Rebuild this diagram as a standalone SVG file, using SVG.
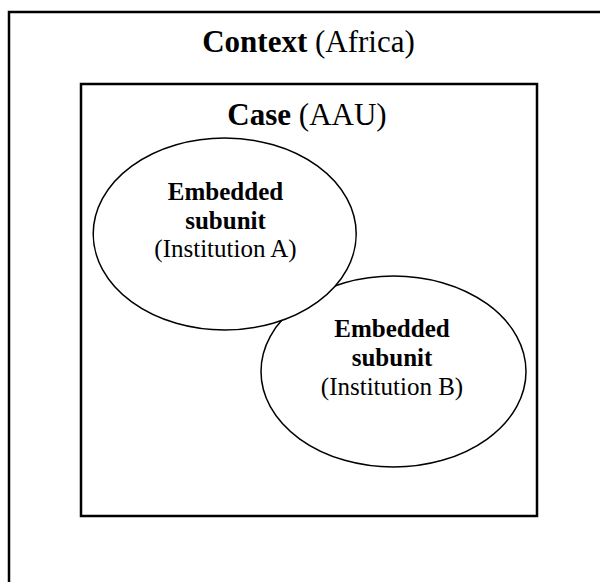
<svg xmlns="http://www.w3.org/2000/svg" width="600" height="582" viewBox="0 0 600 582">
<style>
text{font-family:"Liberation Serif","Times New Roman",serif;fill:#000;text-anchor:middle}
.big{font-size:31px}
.sm{font-size:25px}
.b{font-weight:bold}
.box{fill:none;stroke:#000;stroke-width:2.5}
.ell{fill:#fff;stroke:#000;stroke-width:1.5}
</style>
<rect width="600" height="582" fill="#fff"/>
<g id="context">
<rect class="box" x="9" y="12" width="610" height="600"/>
<text class="big" x="308.5" y="52"><tspan class="b">Context</tspan> (Africa)</text>
</g>
<g id="case">
<rect class="box" x="81" y="84" width="456" height="432"/>
<text class="big" x="307" y="125"><tspan class="b">Case</tspan> (AAU)</text>
</g>
<g id="subunitB">
<ellipse class="ell" cx="393.5" cy="371.5" rx="132.5" ry="95.5"/>
<text class="sm b" x="392" y="337">Embedded</text>
<text class="sm b" x="392" y="366">subunit</text>
<text class="sm" x="392" y="395">(Institution B)</text>
</g>
<g id="subunitA">
<ellipse class="ell" cx="224.7" cy="234" rx="131.5" ry="96"/>
<text class="sm b" x="225.5" y="200">Embedded</text>
<text class="sm b" x="225.5" y="229">subunit</text>
<text class="sm" x="225.5" y="257">(Institution A)</text>
</g>
<g id="connectors"></g>
</svg>
